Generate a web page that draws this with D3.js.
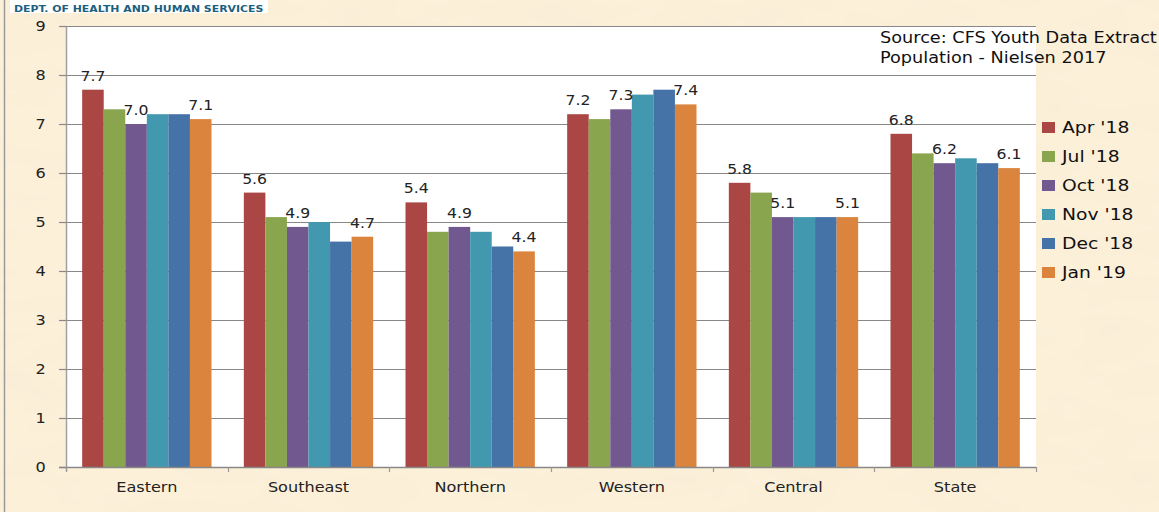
<!DOCTYPE html>
<html>
<head>
<meta charset="utf-8">
<script src="https://cdn.jsdelivr.net/npm/d3@7"></script>
<style>
  html, body { margin: 0; padding: 0; background: #fbedd3; }
  svg { display: block; }
</style>
</head>
<body>
<svg id="chart" width="1159" height="512"></svg>
<script>
// ---- data ----
const categories = ["Eastern", "Southeast", "Northern", "Western", "Central", "State"];
const seriesNames = ["Apr '18", "Jul '18", "Oct '18", "Nov '18", "Dec '18", "Jan '19"];
const aprValues = [7.7, 5.6, 5.4, 7.2, 5.8, 6.8];
const julValues = [7.3, 5.1, 4.8, 7.1, 5.6, 6.4];
const octValues = [7.0, 4.9, 4.9, 7.3, 5.1, 6.2];
const novValues = [7.2, 5.0, 4.8, 7.6, 5.1, 6.3];
const decValues = [7.2, 4.6, 4.5, 7.7, 5.1, 6.2];
const janValues = [7.1, 4.7, 4.4, 7.4, 5.1, 6.1];
const labelledSeries = ["Apr '18", "Oct '18", "Jan '19"];
const yTicks = [0, 1, 2, 3, 4, 5, 6, 7, 8, 9];
const sourceLines = ["Source: CFS Youth Data Extract", "Population - Nielsen 2017"];
const headerText = "DEPT. OF HEALTH AND HUMAN SERVICES";

const seriesValues = [aprValues, julValues, octValues, novValues, decValues, janValues];
const colors = ["#aa4643", "#89a54e", "#71588f", "#4198af", "#4572a7", "#db843d"];

// ---- layout ----
const svg = d3.select("#chart");
const W = 1159, H = 512;
const plot = { left: 66, right: 1036, top: 26, bottom: 467 };
const FONT = "'DejaVu Sans', Verdana, sans-serif";
const STRETCH = 1.15;

// background
const defs = svg.append("defs");
const filt = defs.append("filter").attr("id", "paper").attr("x", 0).attr("y", 0).attr("width", "100%").attr("height", "100%");
filt.append("feTurbulence").attr("type", "fractalNoise").attr("baseFrequency", "0.012 0.03").attr("numOctaves", 3).attr("seed", 4).attr("result", "noise");
filt.append("feColorMatrix").attr("in", "noise").attr("type", "matrix")
  .attr("values", "0 0 0 0 0.93  0 0 0 0 0.84  0 0 0 0 0.68  0 0 0 -1.1 0.62").attr("result", "tint");
filt.append("feComposite").attr("in", "tint").attr("in2", "SourceGraphic").attr("operator", "over");

svg.append("rect").attr("width", W).attr("height", H).attr("fill", "#fcf0d9");
svg.append("rect").attr("width", W).attr("height", H).attr("fill", "#fcf0d9").attr("filter", "url(#paper)").attr("opacity", 0.55);

// left border line
svg.append("line").attr("x1", 4.5).attr("x2", 4.5).attr("y1", 0).attr("y2", H)
  .attr("stroke", "#9a9a9a").attr("stroke-width", 1.5);

// header box
svg.append("rect").attr("x", 10).attr("y", 0).attr("width", 258).attr("height", 13).attr("fill", "#ffffff");
svg.append("text").attr("transform", "translate(14,11.5) scale(1.24,1)")
  .attr("font-family", FONT).attr("font-weight", "bold").attr("font-size", 8.8)
  .attr("fill", "#1d5f80").text(headerText);

// plot area
svg.append("rect").attr("x", plot.left).attr("y", plot.top)
  .attr("width", plot.right - plot.left).attr("height", plot.bottom - plot.top).attr("fill", "#ffffff");

// scales
const x0 = d3.scaleBand().domain(categories).range([plot.left, plot.right]).paddingInner(0).paddingOuter(0);
const x1 = d3.scaleBand().domain(seriesNames).range([0, x0.bandwidth()]).paddingInner(0).paddingOuter(0.75);
const y = d3.scaleLinear().domain([0, 9]).range([plot.bottom, plot.top]);
const color = d3.scaleOrdinal().domain(seriesNames).range(colors);

// gridlines
svg.append("g").selectAll("line").data(yTicks.filter(d => d > 0)).join("line")
  .attr("x1", plot.left - 7).attr("x2", plot.right)
  .attr("y1", d => Math.round(y(d)) + 0.5).attr("y2", d => Math.round(y(d)) + 0.5)
  .attr("stroke", "#888888").attr("stroke-width", 1.2);

// y axis
const yAxis = svg.append("g").attr("transform", `translate(${plot.left + 0.5},0)`)
  .call(d3.axisLeft(y).tickValues(yTicks).tickFormat(d3.format("d")).tickSize(7).tickSizeOuter(0).tickPadding(11));
yAxis.select(".domain").attr("stroke", "#a0a0a0").attr("stroke-width", 1.5)
  .attr("d", `M0,${plot.top}V${plot.bottom + 4}`);
yAxis.selectAll(".tick line").attr("stroke", "#888888").attr("stroke-width", 1.2);
yAxis.selectAll(".tick text").attr("font-family", FONT).attr("font-size", 14).attr("fill", "#222")
  .attr("transform", `scale(${STRETCH},1)`);

// bars
const rows = categories.map((c, i) => ({ cat: c, vals: seriesNames.map((s, j) => ({ s, v: seriesValues[j][i], cat: c })) }));
const groups = svg.append("g").selectAll("g").data(rows).join("g")
  .attr("transform", d => `translate(${x0(d.cat)},0)`);
groups.selectAll("rect").data(d => d.vals).join("rect")
  .attr("x", d => x1(d.s)).attr("width", x1.bandwidth())
  .attr("y", d => y(d.v)).attr("height", d => y(0) - y(d.v))
  .attr("fill", d => color(d.s));

// data labels
groups.selectAll("text").data(d => d.vals.filter(v => labelledSeries.includes(v.s))).join("text")
  .attr("transform", d => `translate(${x1(d.s) + x1.bandwidth() / 2},${y(d.v) - 9}) scale(1.12,1)`)
  .attr("text-anchor", "middle").attr("font-family", FONT).attr("font-size", 14).attr("fill", "#222")
  .text(d => d3.format(".1f")(d.v));

// x axis baseline
svg.append("line").attr("x1", plot.left - 7).attr("x2", plot.right)
  .attr("y1", plot.bottom + 0.5).attr("y2", plot.bottom + 0.5)
  .attr("stroke", "#888888").attr("stroke-width", 1.4);
const boundaries = categories.map(c => x0(c)).concat([plot.right]);
svg.append("g").selectAll("line").data(boundaries).join("line")
  .attr("x1", d => Math.round(d) + 0.5).attr("x2", d => Math.round(d) + 0.5)
  .attr("y1", plot.bottom).attr("y2", plot.bottom + 5)
  .attr("stroke", "#999").attr("stroke-width", 1.2);

const xAxis = svg.append("g").attr("transform", `translate(0,${plot.bottom})`)
  .call(d3.axisBottom(x0).tickSize(0).tickPadding(15));
xAxis.select(".domain").remove();
xAxis.selectAll(".tick text").attr("font-family", FONT).attr("font-size", 14).attr("fill", "#222")
  .attr("transform", `scale(${STRETCH},1)`);

// source text
svg.append("g").selectAll("text").data(sourceLines).join("text")
  .attr("transform", (d, i) => `translate(880,${43 + i * 20}) scale(1.18,1)`)
  .attr("font-family", FONT).attr("font-size", 15).attr("fill", "#111").text(d => d);

// legend
const legend = svg.append("g").selectAll("g").data(seriesNames).join("g")
  .attr("transform", (d, i) => `translate(1042,${127 + i * 29})`);
legend.append("rect").attr("x", 0).attr("y", -5).attr("width", 13).attr("height", 11).attr("fill", d => color(d));
legend.append("text").attr("transform", "translate(20,5.5) scale(1.25,1)")
  .attr("font-family", FONT).attr("font-size", 15).attr("fill", "#111").text(d => d);
</script>
</body>
</html>
